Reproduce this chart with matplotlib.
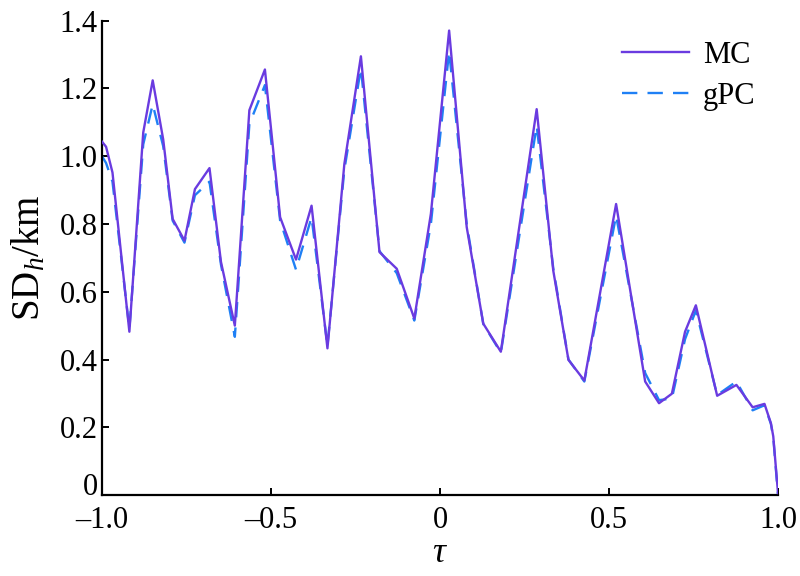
import matplotlib
matplotlib.use("Agg")
import matplotlib.pyplot as plt

tau = [-1.0, -0.988, -0.969, -0.919, -0.878, -0.850, -0.819, -0.791, -0.756, -0.725,
       -0.682, -0.648, -0.607, -0.564, -0.518, -0.473, -0.426, -0.380, -0.333, -0.283,
       -0.234, -0.179, -0.128, -0.076, -0.027, 0.027, 0.079, 0.128, 0.180, 0.286,
       0.335, 0.380, 0.427, 0.521, 0.607, 0.648, 0.686, 0.725, 0.757, 0.820,
       0.877, 0.925, 0.960, 0.979, 0.986, 1.0]

mc = [1.043, 1.028, 0.952, 0.482, 1.070, 1.224, 1.050, 0.815, 0.751, 0.903,
      0.965, 0.688, 0.500, 1.136, 1.256, 0.820, 0.695, 0.854, 0.433, 0.977,
      1.295, 0.717, 0.668, 0.521, 0.830, 1.371, 0.791, 0.506, 0.423, 1.139,
      0.663, 0.399, 0.338, 0.859, 0.335, 0.271, 0.299, 0.482, 0.560, 0.293,
      0.325, 0.259, 0.269, 0.212, 0.173, 0.006]

gpc = [1.000, 0.980, 0.925, 0.490, 1.035, 1.153, 1.030, 0.810, 0.745, 0.885,
       0.925, 0.680, 0.467, 1.095, 1.210, 0.810, 0.665, 0.820, 0.440, 0.960,
       1.260, 0.720, 0.655, 0.515, 0.800, 1.310, 0.800, 0.505, 0.420, 1.090,
       0.670, 0.400, 0.335, 0.825, 0.360, 0.280, 0.285, 0.460, 0.545, 0.295,
       0.335, 0.250, 0.265, 0.210, 0.170, 0.0]

xticks = [-1.0, -0.5, 0, 0.5, 1.0]
xticklabels = ["\u20131.0", "\u20130.5", "0", "0.5", "1.0"]
yticks = [0, 0.2, 0.4, 0.6, 0.8, 1.0, 1.2, 1.4]
yticklabels = ["0", "0.2", "0.4", "0.6", "0.8", "1.0", "1.2", "1.4"]

plt.rcParams['font.family'] = ['Liberation Serif', 'DejaVu Serif']
plt.rcParams['mathtext.fontset'] = 'custom'
plt.rcParams['mathtext.rm'] = 'Liberation Serif'
plt.rcParams['mathtext.it'] = 'Liberation Serif:italic'

fig = plt.figure(figsize=(8, 5.76), dpi=100)
ax = fig.add_axes([0.1275, 0.1406, 0.845, 0.8234])

ax.plot(tau, mc, color='#6a3be0', lw=1.7, label='MC', zorder=3)
ax.plot(tau, gpc, color='#1f80f5', lw=1.7, dashes=(6.5, 4.3), label='gPC', zorder=2)

ax.set_xlim(-1.0, 1.0)
ax.set_ylim(0, 1.4)
ax.set_xticks(xticks)
ax.set_xticklabels(xticklabels)
ax.set_yticks(yticks)
ax.set_yticklabels(yticklabels)
ax.tick_params(direction='in', length=5, width=1.4, labelsize=22)
ax.tick_params(axis='x', pad=8)
ax.tick_params(axis='y', pad=3)
ax.get_yticklabels()[0].set_verticalalignment('baseline')
for s in ['top', 'right']:
    ax.spines[s].set_visible(False)
for s in ['left', 'bottom']:
    ax.spines[s].set_linewidth(1.6)

ax.set_xlabel(r'$\tau$', fontsize=26, labelpad=1)
ax.set_ylabel(r'SD$_{\mathit{h}}$/km', fontsize=28, labelpad=8)

ax.legend(loc='upper right', frameon=False, fontsize=22, handlelength=2.2,
          handletextpad=0.45, borderaxespad=0.0, labelspacing=0.4,
          bbox_to_anchor=(0.985, 0.984))

fig.savefig('out.png', dpi=100)
